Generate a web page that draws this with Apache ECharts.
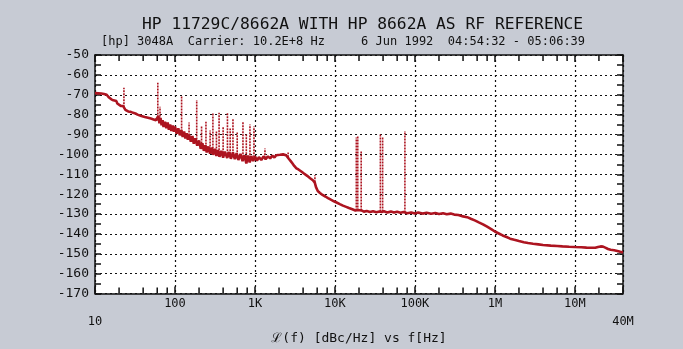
<!DOCTYPE html>
<html><head><meta charset="utf-8">
<script src="https://cdn.jsdelivr.net/npm/echarts@6/dist/echarts.min.js"></script>
<style>html,body{margin:0;padding:0;background:#c7cbd4}#c{width:683px;height:349px}</style>
</head><body><div id="c"></div>
<script>
const titleText = 'HP 11729C/8662A WITH HP 8662A AS RF REFERENCE';
const subtitleText = '[hp] 3048A  Carrier: 10.2E+8 Hz     6 Jun 1992  04:54:32 - 05:06:39';
const xAxisName = 'ℒ(f) [dBc/Hz] vs f[Hz]';
const xTickValues = [10, 100, 1e3, 1e4, 1e5, 1e6, 1e7, 4e7];
const xTickLabels = ['10', '100', '1K', '10K', '100K', '1M', '10M', '40M'];
const minorTickFreq = [20,40,60,80, 200,400,600,800, 2e3,4e3,6e3,8e3, 2e4,4e4,6e4,8e4, 2e5,4e5,6e5,8e5, 2e6,4e6,6e6,8e6, 2e7];

const traceFreq = [10,10.5,11,11.5,12,12.5,13,13.5,14,14.5,15,15.5,16,16.5,17,17.5,18,18.5,19,19.5,20,21,21.5,22,22.5,23,24,24.5,25,26,27,28,29,30,31,32,33,34,35,36,38,40,42,44,46,48,50,52,54,56,58,60,62,64,66,68,70,72,75,78,81,84,87,90,94,97,100,105,110,115,120,125,130,135,140,145,150,158,165,172,180,190,200,210,220,230,240,250,262,275,288,300,315,330,345,360,380,400,420,450,475,500,530,560,590,620,660,700,740,780,820,860,900,950,1000,1060,1120,1200,1280,1360,1450,1550,1650,1750,1850,1950,2050,2150,2250,2350,2450,2550,2650,2800,2950,3100,3300,3500,3800,4100,4500,4900,5300,5600,5800,6100,6500,7000,7600,8200,8900,9700,10500,11500,12600,13800,15000,16500,18000,18700,19500,20500,21500,23000,25000,27500,30000,33000,36000,38300,41000,45000,50000,55000,60000,66000,72000,75000,80000,90000,100000,110000,125000,140000,160000,180000,200000,225000,250000,280000,310000,350000,400000,450000,500000,560000,630000,710000,800000,900000,1000000,1120000,1250000,1400000,1550000,1750000,2000000,2300000,2600000,3000000,3500000,4000000,5000000,6000000,7000000,8500000,10000000,12000000,14000000,16000000,18000000,19500000,21000000,22500000,24000000,26000000,28000000,31000000,34000000,37000000,40000000];
const traceDb = [-69.2,-68.8,-69.3,-69.0,-69.4,-69.1,-69.6,-69.5,-70.0,-70.6,-71.4,-71.0,-72.3,-72.0,-72.8,-72.5,-73.6,-73.2,-74.4,-74.0,-74.6,-75.6,-75.2,-76.0,-75.7,-76.3,-77.6,-77.0,-77.8,-78.4,-77.9,-78.6,-78.2,-79.1,-78.7,-79.4,-79.0,-80.0,-79.6,-80.2,-80.7,-80.4,-81.2,-80.8,-81.6,-81.3,-82.0,-81.6,-82.4,-82.0,-82.8,-83.2,-80.6,-84.4,-81.6,-85.4,-82.8,-86.2,-83.6,-86.8,-84.0,-87.6,-84.9,-88.2,-85.5,-88.6,-86.0,-89.6,-86.9,-90.4,-87.8,-91.2,-88.5,-92.0,-89.4,-92.6,-90.0,-93.6,-90.8,-94.6,-91.9,-95.6,-93.0,-97.2,-94.4,-98.2,-95.4,-99.0,-96.0,-99.6,-96.6,-100.2,-97.2,-100.8,-97.8,-101.2,-98.2,-101.6,-98.6,-101.8,-98.8,-102.2,-99.0,-102.4,-99.4,-102.8,-99.8,-103.4,-100.4,-104.6,-100.6,-104.0,-100.8,-103.4,-101.0,-103.2,-101.4,-102.8,-101.0,-102.4,-101.0,-102.0,-100.6,-101.6,-100.4,-101.2,-100.2,-100.9,-100.0,-99.8,-100.4,-101.2,-102.2,-103.4,-104.6,-105.8,-107.0,-107.6,-108.6,-109.6,-110.8,-112.0,-113.0,-114.2,-116.5,-118.4,-119.4,-120.4,-121.2,-122.0,-122.8,-123.6,-124.2,-125.0,-125.8,-126.4,-127.0,-127.6,-128.2,-128.4,-128.0,-128.6,-128.2,-128.8,-128.5,-129.0,-128.6,-129.1,-128.7,-129.0,-128.6,-129.2,-128.8,-129.3,-128.9,-129.4,-129.0,-129.3,-129.6,-129.2,-129.7,-129.3,-129.8,-129.4,-129.9,-129.5,-130.0,-129.6,-130.1,-129.8,-130.3,-130.5,-131.2,-131.6,-132.4,-133.2,-134.2,-135.2,-136.4,-137.6,-138.8,-139.8,-140.8,-141.6,-142.4,-143.0,-143.6,-144.2,-144.6,-145.0,-145.3,-145.6,-145.9,-146.1,-146.3,-146.5,-146.6,-146.7,-146.9,-147.0,-147.0,-146.6,-146.3,-146.4,-146.9,-147.6,-148.0,-148.2,-148.6,-149.0,-149.3];

const spurFreq = [23, 61, 65, 121, 150, 187, 215, 244, 275, 298, 330, 356, 400, 453, 490, 531, 600, 708, 780, 866, 972, 1334, 2600, 5620, 18500, 19300, 21300, 37000, 39500, 75000];
const spurTop  = [-66.5, -64, -76, -70.5, -84, -72.7, -86, -83.6, -88, -79, -88, -79, -86, -79, -87, -82, -89, -83.6, -90, -85, -86, -97, -99, -110.5, -91.5, -90.8, -98, -90, -91, -88.2];
const spurBase = [-76.3, -83, -84, -90, -92, -95.5, -96, -98, -99, -100, -100, -101, -101, -101.5, -101.5, -101.5, -102, -103, -103, -103.5, -103, -102, -101.5, -114, -128.3, -128.3, -128.3, -128.8, -128.8, -129.3];

const red = '#ad1420';
const mono = 'DejaVu Sans Mono';
const chart = echarts.init(document.getElementById('c'));

function xLabel(v) {
  for (let i = 0; i < xTickValues.length; i++) {
    if (Math.abs(Math.log10(v) - Math.log10(xTickValues[i])) < 0.01) {
      if (i === 0 || i === xTickValues.length - 1) return '{low|' + xTickLabels[i] + '}';
      return xTickLabels[i];
    }
  }
  return '';
}

const dotted = { type: [2, 3], color: '#111', width: 1.2 };
const xBase = { type: 'log', logBase: 10, min: 10, max: 4e7 };
const yBase = { type: 'value', min: -170, max: -50, interval: 10 };
const tickStyle = { color: '#111', width: 1.5 };

chart.setOption({
  animation: false,
  backgroundColor: '#c7cbd4',
  title: [
    { text: titleText, left: 137, top: 12, textStyle: { fontFamily: mono, fontSize: 16.3, fontWeight: 'normal', color: '#111' } },
    { text: subtitleText, left: 96, top: 31, textStyle: { fontFamily: mono, fontSize: 12, fontWeight: 'normal', color: '#111' } }
  ],
  grid: { left: 95, right: 60, top: 55, bottom: 55.5, backgroundColor: '#fff', show: true, borderWidth: 0, outerBoundsMode: 'none', containLabel: false },
  xAxis: [
    Object.assign({}, xBase, {
      position: 'bottom',
      name: xAxisName, nameLocation: 'middle', nameGap: 25,
      nameTextStyle: { fontFamily: mono, fontSize: 13, color: '#111' },
      axisLine: { lineStyle: { color: '#111', width: 1.5 } },
      axisTick: { show: true, inside: true, length: 7, lineStyle: tickStyle },
      axisLabel: { formatter: xLabel, fontFamily: mono, fontSize: 12, color: '#111', margin: 4, showMinLabel: true, showMaxLabel: true,
        rich: { low: { fontFamily: mono, fontSize: 12, color: '#111', padding: [18, 0, 0, 0] } } },
      splitLine: { show: true, lineStyle: dotted }
    }),
    Object.assign({}, xBase, {
      position: 'top',
      axisLine: { lineStyle: { color: '#111', width: 1.5 } },
      axisTick: { show: true, inside: true, length: 7, lineStyle: tickStyle },
      axisLabel: { show: false }, splitLine: { show: false }
    })
  ],
  yAxis: [
    Object.assign({}, yBase, {
      position: 'left',
      axisLine: { show: true, lineStyle: { color: '#111', width: 1.5 } },
      axisTick: { show: true, inside: true, length: 6, lineStyle: tickStyle },
      minorTick: { show: true, splitNumber: 2, length: 6, lineStyle: tickStyle },
      axisLabel: { fontFamily: mono, fontSize: 13, color: '#111', margin: 6 },
      splitLine: { show: true, lineStyle: dotted }
    }),
    Object.assign({}, yBase, {
      position: 'right',
      axisLine: { show: true, lineStyle: { color: '#111', width: 1.5 } },
      axisTick: { show: true, inside: true, length: 6, lineStyle: tickStyle },
      minorTick: { show: true, splitNumber: 2, length: 6, lineStyle: tickStyle },
      axisLabel: { show: false }, splitLine: { show: false }
    })
  ],
  series: [
    {
      type: 'line', xAxisIndex: 0, yAxisIndex: 0, showSymbol: false, symbol: 'none',
      data: traceFreq.map((f, i) => [f, traceDb[i]]),
      lineStyle: { color: red, width: 2.6 }, z: 3
    },
    {
      type: 'custom', xAxisIndex: 0, yAxisIndex: 0,
      data: spurFreq.map((f, i) => [f, spurBase[i], spurTop[i]]),
      renderItem: function (params, api) {
        const a = api.coord([api.value(0), api.value(1)]);
        const b = api.coord([api.value(0), api.value(2)]);
        return { type: 'line', shape: { x1: a[0], y1: a[1], x2: b[0], y2: b[1] },
          style: { stroke: red, lineWidth: 1.6, lineDash: [2, 1] } };
      }, z: 4
    },
    {
      type: 'custom', xAxisIndex: 0, yAxisIndex: 0, silent: true, clip: false,
      data: minorTickFreq.map(f => [f, -170]),
      renderItem: function (params, api) {
        const b = api.coord([api.value(0), -170]);
        const t = api.coord([api.value(0), -50]);
        return { type: 'group', children: [
          { type: 'line', shape: { x1: b[0], y1: b[1], x2: b[0], y2: b[1] - 6 }, style: { stroke: '#111', lineWidth: 1.5 } },
          { type: 'line', shape: { x1: t[0], y1: t[1], x2: t[0], y2: t[1] + 6 }, style: { stroke: '#111', lineWidth: 1.5 } }
        ] };
      }, z: 5
    }
  ]
});
</script></body></html>
